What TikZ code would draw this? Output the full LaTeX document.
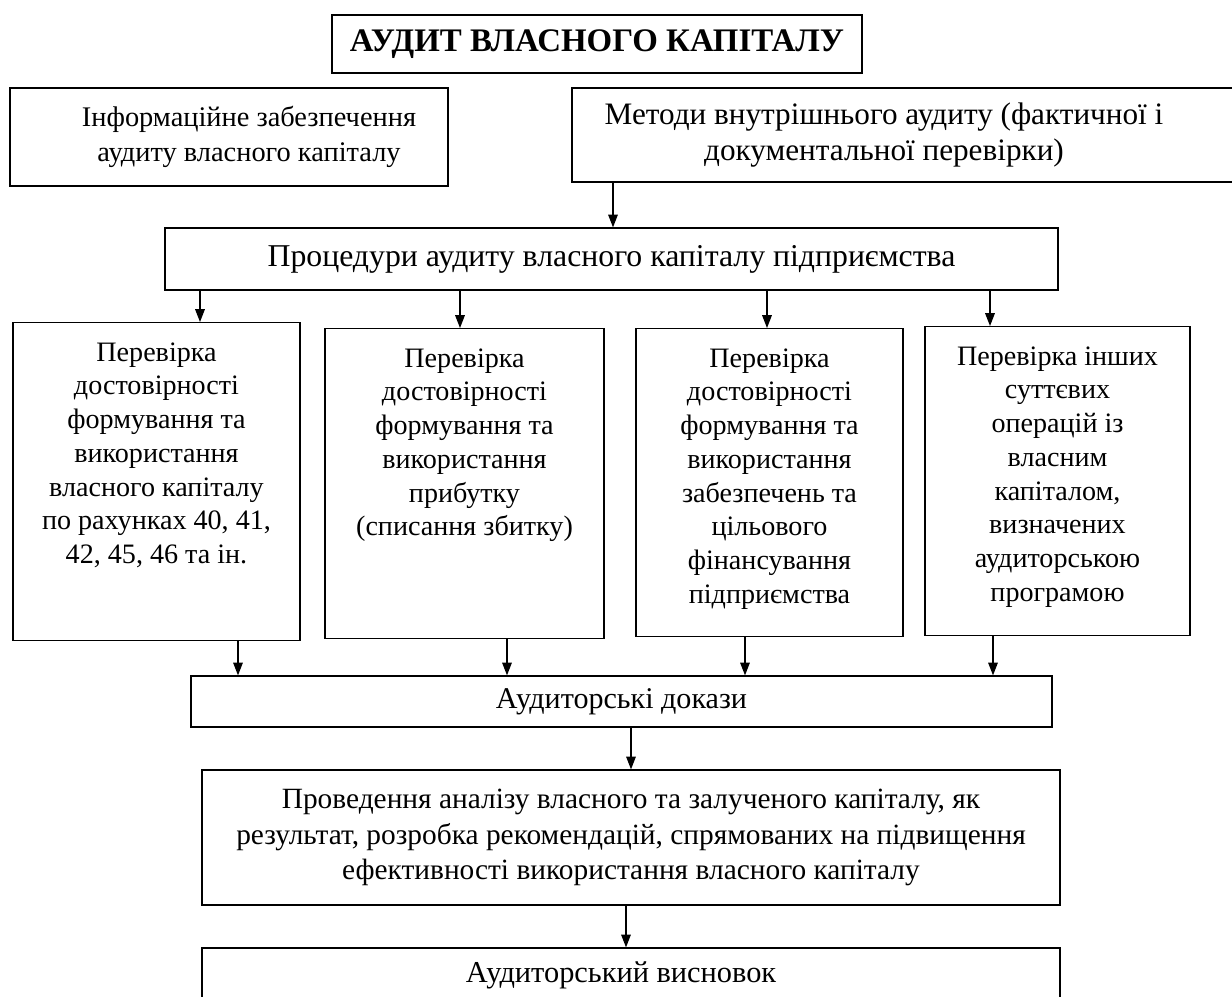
\documentclass[tikz,border=0pt]{standalone}
\usepackage{fontspec}
\setmainfont{Liberation Serif}
\usepackage{tikz}
\usetikzlibrary{arrows.meta}

\newcommand{\fsz}[2]{\fontsize{#1}{#2}\selectfont}

\begin{document}
\begin{tikzpicture}
    [>={Triangle[length=3.2mm, width=2.4mm]}, bx/.style={draw, line width=0.9pt, align=center, inner sep=0pt, font=\fsz{20pt}{24pt}}, chk/.style={bx, anchor=north, inner ysep=0.5cm}, arr/.style={->, line width=0.9pt}]
    \useasboundingbox (0,0) rectangle (30.8,-24.9);
    \node[bx, minimum width=13.25cm, minimum height=1.45cm, font=\fsz{23.4pt}{28pt}\bfseries] (title) at (14.925,-1.1) {АУДИТ ВЛАСНОГО КАПІТАЛУ};
    \node[bx, minimum width=10.95cm, minimum height=2.45cm, font=\fsz{20.2pt}{25pt}] (info) at (5.725,-3.425) {\hspace*{1cm}Інформаційне забезпечення\\\hspace*{1cm}аудиту власного капіталу};
    \node[bx, minimum width=16.6cm, minimum height=2.35cm, font=\fsz{22.2pt}{25pt}] (meth) at (22.6,-3.375) {Методи внутрішнього аудиту (фактичної і\hspace*{1cm}\\документальної перевірки)\hspace*{1cm}};
    \node[bx, minimum width=22.325cm, minimum height=1.55cm, font=\fsz{22.6pt}{26pt}] (proc) at (15.2875,-6.475) {Процедури аудиту власного капіталу підприємства};
    \node[chk, minimum width=7.175cm] (b1) at (3.9125,-8.05) {\parbox[t][6.95cm][t]{7cm}{\centering Перевірка\\достовірності\\формування та\\використання\\власного капіталу\\по рахунках 40, 41,\\42, 45, 46 та ін.}};
    \node[chk, minimum width=6.975cm] (b2) at (11.6125,-8.2) {\parbox[t][6.75cm][t]{6.8cm}{\centering Перевірка\\достовірності\\формування та\\використання\\прибутку\\(списання збитку)}};
    \node[chk, minimum width=6.675cm] (b3) at (19.2375,-8.2) {\parbox[t][6.7cm][t]{6.5cm}{\centering Перевірка\\достовірності\\формування та\\використання\\забезпечень та\\цільового\\фінансування\\підприємства}};
    \node[chk, minimum width=6.625cm] (b4) at (26.4375,-8.15) {\parbox[t][6.725cm][t]{6.45cm}{\centering Перевірка інших\\суттєвих\\операцій із\\власним\\капіталом,\\визначених\\аудиторською\\програмою}};
    \node[bx, minimum width=21.525cm, minimum height=1.275cm, font=\fsz{21.4pt}{25pt}] (evid) at (15.5375,-17.5375) {Аудиторські докази};
    \node[bx, minimum width=21.45cm, minimum height=3.375cm, font=\fsz{20.9pt}{25pt}] (anal) at (15.775,-20.9375) {Проведення аналізу власного та залученого капіталу, як\\результат, розробка рекомендацій, спрямованих на підвищення\\ефективності використання власного капіталу};
    \node[bx, minimum width=21.45cm, minimum height=1.35cm, font=\fsz{21.6pt}{25pt}] (concl) at (15.775,-24.375) {Аудиторський висновок\hspace*{0.5cm}};
    % arrows
    \coordinate (mx) at (15.325,0);
    \draw[arr] (meth.south -| mx) -- (proc.north -| mx);
    \foreach \b/\x/\y in {b1/5.0/5.95, b2/11.5/12.675, b3/19.175/18.625, b4/24.75/24.825}
    {
        \coordinate (in\b) at (\x,0);
        \coordinate (out\b) at (\y,0);
        \draw[arr] (proc.south -| in\b) -- (\b.north -| in\b);
        \draw[arr] (\b.south -| out\b) -- (evid.north -| out\b);
    }
    \draw[arr] (evid.south -| anal) -- (anal);
    \coordinate (cx) at (15.65,0);
    \draw[arr] (anal.south -| cx) -- (concl.north -| cx);
\end{tikzpicture}
\end{document}
